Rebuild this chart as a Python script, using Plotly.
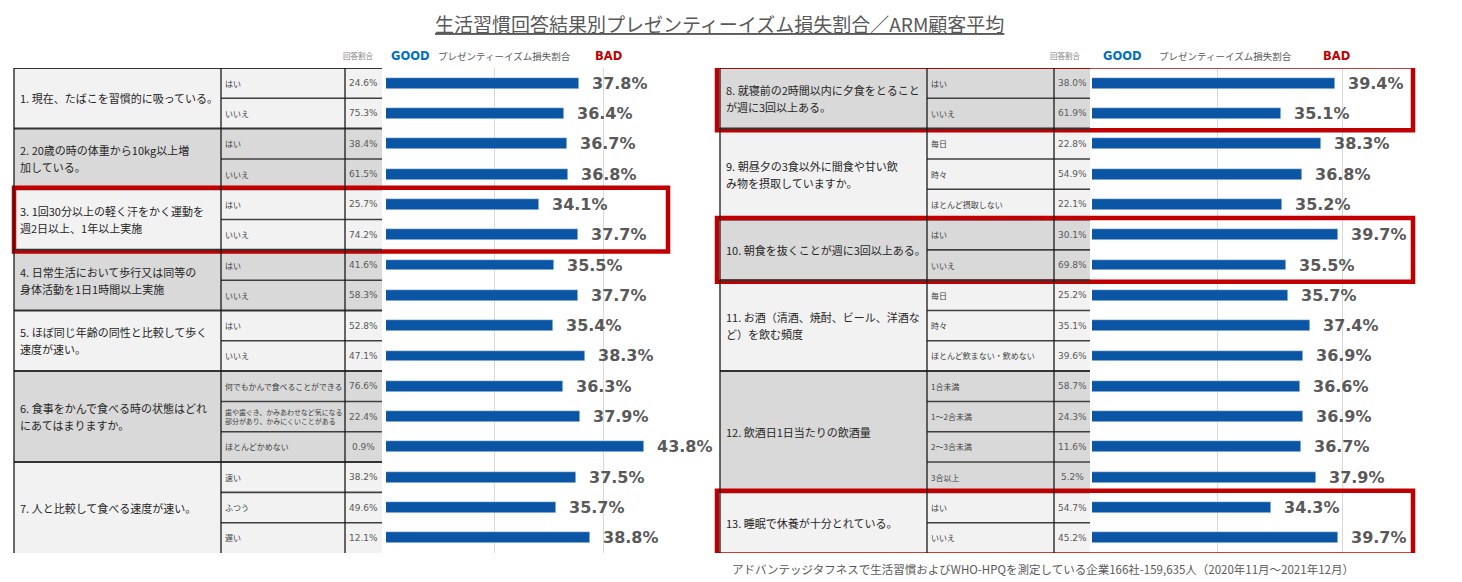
import plotly.graph_objects as go

# The page body has an 8px margin: the figure is drawn 8px in from the window corner.
OFF = 8
W, H = 1462 - OFF, 582 - OFF

# ---------------- data ----------------
left_questions = [
    "1. 現在、たばこを習慣的に吸っている。",
    "2. 20歳の時の体重から10kg以上増<br>加している。",
    "3. 1回30分以上の軽く汗をかく運動を<br>週2日以上、1年以上実施",
    "4. 日常生活において歩行又は同等の<br>身体活動を1日1時間以上実施",
    "5. ほぼ同じ年齢の同性と比較して歩く<br>速度が速い。",
    "6. 食事をかんで食べる時の状態はどれ<br>にあてはまりますか。",
    "7. 人と比較して食べる速度が速い。",
]
left_group_sizes = [2, 2, 2, 2, 2, 3, 3]
left_answers = [
    "はい", "いいえ", "はい", "いいえ", "はい", "いいえ", "はい", "いいえ", "はい", "いいえ",
    "何でもかんで食べることができる",
    "歯や歯ぐき、かみあわせなど気になる<br>部分があり、かみにくいことがある",
    "ほとんどかめない",
    "速い", "ふつう", "遅い",
]
left_ratios = [24.6, 75.3, 38.4, 61.5, 25.7, 74.2, 41.6, 58.3, 52.8, 47.1,
               76.6, 22.4, 0.9, 38.2, 49.6, 12.1]
left_loss = [37.8, 36.4, 36.7, 36.8, 34.1, 37.7, 35.5, 37.7, 35.4, 38.3,
             36.3, 37.9, 43.8, 37.5, 35.7, 38.8]
left_highlight = [3]

right_questions = [
    "8. 就寝前の2時間以内に夕食をとること<br>が週に3回以上ある。",
    "9. 朝昼夕の3食以外に間食や甘い飲<br>み物を摂取していますか。",
    "10. 朝食を抜くことが週に3回以上ある。",
    "11. お酒（清酒、焼酎、ビール、洋酒な<br>ど）を飲む頻度",
    "12. 飲酒日1日当たりの飲酒量",
    "13. 睡眠で休養が十分とれている。",
]
right_group_sizes = [2, 3, 2, 3, 4, 2]
right_answers = [
    "はい", "いいえ",
    "毎日", "時々", "ほとんど摂取しない",
    "はい", "いいえ",
    "毎日", "時々", "ほとんど飲まない・飲めない",
    "1合未満", "1～2合未満", "2～3合未満", "3合以上",
    "はい", "いいえ",
]
right_ratios = [38.0, 61.9, 22.8, 54.9, 22.1, 30.1, 69.8, 25.2, 35.1, 39.6,
                58.7, 24.3, 11.6, 5.2, 54.7, 45.2]
right_loss = [39.4, 35.1, 38.3, 36.8, 35.2, 39.7, 35.5, 35.7, 37.4, 36.9,
              36.6, 36.9, 36.7, 37.9, 34.3, 39.7]
right_highlight = [8, 10, 13]

title_text = "生活習慣回答結果別プレゼンティーイズム損失割合／ARM顧客平均"
header_ratio = "回答割合"
header_good = "GOOD"
header_loss = "プレゼンティーイズム損失割合"
header_bad = "BAD"
footnote = "アドバンテッジタフネスで生活習慣およびWHO-HPQを測定している企業166社-159,635人（2020年11月～2021年12月）"

# ---------------- layout constants ----------------
def px(x):
    return (x - OFF) / W

def py(y):
    return 1 - (y - OFF) / H

TOP, BOTTOM = 68, 553
NROWS = 16
ydom = [py(BOTTOM), py(TOP)]

BAR_COLOR = "#0b55a5"
LIGHT = "#f2f2f2"
DARK = "#d9d9d9"
RED = "#c00000"
JP = "Noto Sans CJK JP"
LAT = "DejaVu Sans"

panels = [
    dict(q=left_questions, sizes=left_group_sizes, ans=left_answers, ratio=left_ratios,
         loss=left_loss, hl=left_highlight, qstart=1,
         cols=(14, 221, 345, 382), xdom=(386, 711.5), xrange=(20, 50), first_dark=False,
         xa="x", ya="y", hdr=(358, 410, 505, 608), box=(14, 668)),
    dict(q=right_questions, sizes=right_group_sizes, ans=right_answers, ratio=right_ratios,
         loss=right_loss, hl=right_highlight, qstart=8,
         cols=(720, 927, 1054, 1090), xdom=(1092, 1454.5), xrange=(20, 49), first_dark=True,
         xa="x2", ya="y2", hdr=(1065, 1122, 1225, 1336), box=(717, 1413)),
]

fig = go.Figure()
shapes = []
annotations = []

for p in panels:
    c0, c1, c2, c3 = p["cols"]
    rows = list(range(len(p["loss"])))
    fig.add_trace(go.Bar(
        x=p["loss"], y=rows, orientation="h", marker_color=BAR_COLOR, width=0.36,
        xaxis=p["xa"], yaxis=p["ya"], showlegend=False, hoverinfo="skip",
    ))
    yref = p["ya"]
    # loss labels
    for r, v in zip(rows, p["loss"]):
        annotations.append(dict(
            x=v, y=r, xref=p["xa"], yref=yref, text=f"<b>{v:.1f}%</b>", showarrow=False,
            xanchor="left", yanchor="middle", xshift=11,
            font=dict(family=LAT, size=16, color="#595959"),
        ))
    # table groups
    r0 = 0
    for gi, (qt, n) in enumerate(zip(p["q"], p["sizes"])):
        dark = (gi % 2 == 1) != p["first_dark"]
        fill = DARK if dark else LIGHT
        shapes.append(dict(type="rect", xref="paper", yref=yref,
                           x0=px(c0), x1=px(c3), y0=r0 - 0.5, y1=r0 + n - 0.5,
                           fillcolor=fill, line=dict(width=0), layer="below"))
        shapes.append(dict(type="line", xref="paper", yref=yref,
                           x0=px(c0), x1=px(c3), y0=r0 - 0.5, y1=r0 - 0.5,
                           line=dict(color="#333333", width=2)))
        for k in range(1, n):
            shapes.append(dict(type="line", xref="paper", yref=yref,
                               x0=px(c1), x1=px(c3), y0=r0 + k - 0.5, y1=r0 + k - 0.5,
                               line=dict(color="#404040", width=1.6)))
        # question text, line by line
        lines = qt.split("<br>")
        yc = r0 + (n - 1) / 2
        nl = len(lines)
        for li, ln in enumerate(lines):
            annotations.append(dict(
                x=px(c0 + 4), y=yc, xref="paper", yref=yref, text=ln, showarrow=False,
                xanchor="left", yanchor="middle", yshift=-(li - (nl - 1) / 2) * 17,
                font=dict(family=JP, size=11, color="#262626"),
            ))
        # highlight box
        if (p["qstart"] + gi) in p["hl"]:
            bx0, bx1 = p["box"]
            shapes.append(dict(type="rect", xref="paper", yref=yref,
                               x0=px(bx0), x1=px(bx1), y0=r0 - 0.55, y1=r0 + n - 0.45,
                               line=dict(color=RED, width=4.5), fillcolor="rgba(0,0,0,0)",
                               layer="above"))
        r0 += n
    # vertical lines
    for cx in (c0, c1, c2):
        shapes.append(dict(type="line", xref="paper", yref=yref,
                           x0=px(cx), x1=px(cx), y0=-0.5, y1=NROWS - 0.5,
                           line=dict(color="#1a1a1a", width=1.3)))
    # answers and ratios
    for r, (a, rt) in enumerate(zip(p["ans"], p["ratio"])):
        longest = max(len(s) for s in a.split("<br>"))
        asize = min(8, (c2 - c1 - 6) / longest)
        annotations.append(dict(
            x=px(c1 + 2), y=r, xref="paper", yref=yref, text=a, showarrow=False,
            xanchor="left", yanchor="middle", align="left",
            font=dict(family=JP, size=asize, color="#404040"),
        ))
        annotations.append(dict(
            x=px((c2 + c3) / 2), y=r, xref="paper", yref=yref, text=f"{rt:.1f}%",
            showarrow=False, xanchor="center", yanchor="middle",
            font=dict(family=LAT, size=9, color="#595959"),
        ))
    # headers
    h1, h2, h3, h4 = p["hdr"]
    hy = py(56)
    annotations += [
        dict(x=px(h1), y=hy, xref="paper", yref="paper", text=header_ratio, showarrow=False,
             xanchor="center", yanchor="middle",
             font=dict(family=JP, size=7.5, color="#7f7f7f")),
        dict(x=px(h2), y=hy, xref="paper", yref="paper", text=f"<b>{header_good}</b>",
             showarrow=False, xanchor="center", yanchor="middle",
             font=dict(family=LAT, size=11.5, color="#0070c0")),
        dict(x=px(h3), y=hy, xref="paper", yref="paper", text=header_loss, showarrow=False,
             xanchor="center", yanchor="middle",
             font=dict(family=JP, size=9.5, color="#595959")),
        dict(x=px(h4), y=hy, xref="paper", yref="paper", text=f"<b>{header_bad}</b>",
             showarrow=False, xanchor="center", yanchor="middle",
             font=dict(family=LAT, size=11.5, color=RED)),
    ]

annotations.append(dict(
    x=px(719), y=py(8.5), xref="paper", yref="paper", text=f"<u>{title_text}</u>",
    showarrow=False, xanchor="center", yanchor="top", borderpad=0,
    font=dict(family=JP, size=19, color="#595959"),
))
annotations.append(dict(
    x=px(730), y=py(569), xref="paper", yref="paper", text=footnote,
    showarrow=False, xanchor="left", yanchor="middle",
    font=dict(family=JP, size=11.5, color="#595959"),
))

axis_common = dict(tickvals=[30, 40], showticklabels=False, showgrid=True,
                   gridcolor="#d9d9d9", gridwidth=1, zeroline=False, showline=False,
                   ticks="", fixedrange=True)
yaxis_common = dict(domain=ydom, range=[NROWS - 0.5, -0.5], visible=False, fixedrange=True)

fig.update_layout(
    width=W, height=H,
    margin=dict(l=0, r=0, t=0, b=0),
    paper_bgcolor="white", plot_bgcolor="white",
    font=dict(family=JP),
    xaxis=dict(domain=[px(panels[0]["xdom"][0]), px(panels[0]["xdom"][1])],
               range=list(panels[0]["xrange"]), anchor="y", **axis_common),
    xaxis2=dict(domain=[px(panels[1]["xdom"][0]), min(1.0, px(panels[1]["xdom"][1]))],
                range=list(panels[1]["xrange"]), anchor="y2", **axis_common),
    yaxis=dict(anchor="x", **yaxis_common),
    yaxis2=dict(anchor="x2", **yaxis_common),
    shapes=shapes,
    annotations=annotations,
    bargap=0,
)

fig.write_html("out.html")
